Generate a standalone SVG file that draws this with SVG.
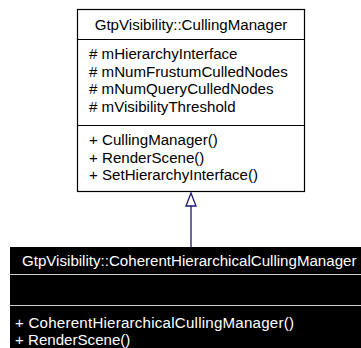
<svg xmlns="http://www.w3.org/2000/svg" width="361" height="348" viewBox="0 0 361 348">
<style>
text { font-family: "Liberation Sans", Arial, sans-serif; font-size: 15.1px; }
.dark { fill: #000000; }
.light { fill: #ffffff; }
.box { fill: #ffffff; stroke: #000000; stroke-width: 1.2; }
.sep { stroke: #000000; stroke-width: 1; }
.wsep { stroke: #cccccc; stroke-width: 1; }
.edge { stroke: #191970; stroke-width: 1.3; fill: none; }
.head { fill: #ffffff; stroke: #191970; stroke-width: 1.3; }
</style>
<rect width="361" height="348" fill="#ffffff"/>
<g id="node-CullingManager">
<rect class="box" x="77.5" y="9.5" width="227" height="182"/>
<line class="sep" x1="77.5" y1="39.5" x2="304.5" y2="39.5"/>
<line class="sep" x1="77.5" y1="125.5" x2="304.5" y2="125.5"/>
<text class="dark" x="191" y="29.5" text-anchor="middle">GtpVisibility::CullingManager</text>
<text class="dark" x="89" y="59"># mHierarchyInterface</text>
<text class="dark" x="89" y="76.5"># mNumFrustumCulledNodes</text>
<text class="dark" x="89" y="94"># mNumQueryCulledNodes</text>
<text class="dark" x="89" y="111.5"># mVisibilityThreshold</text>
<text class="dark" x="89" y="145">+ CullingManager()</text>
<text class="dark" x="89" y="162.5">+ RenderScene()</text>
<text class="dark" x="89" y="180">+ SetHierarchyInterface()</text>
</g>
<g id="node-CoherentHierarchicalCullingManager">
<rect x="10" y="247" width="360" height="110" fill="#000000"/>
<line class="wsep" x1="10" y1="274.5" x2="361" y2="274.5"/>
<line class="wsep" x1="10" y1="305.5" x2="361" y2="305.5"/>
<text class="light" x="22" y="266">GtpVisibility::CoherentHierarchicalCullingManager</text>
<text class="light" x="15" y="327.5" textLength="279" lengthAdjust="spacing">+ CoherentHierarchicalCullingManager()</text>
<text class="light" x="15" y="344.5">+ RenderScene()</text>
</g>
<g id="connectors">
<line class="edge" x1="191" y1="206" x2="191" y2="247"/>
<polygon class="head" points="191,193 186,206 196,206"/>
</g>
</svg>
